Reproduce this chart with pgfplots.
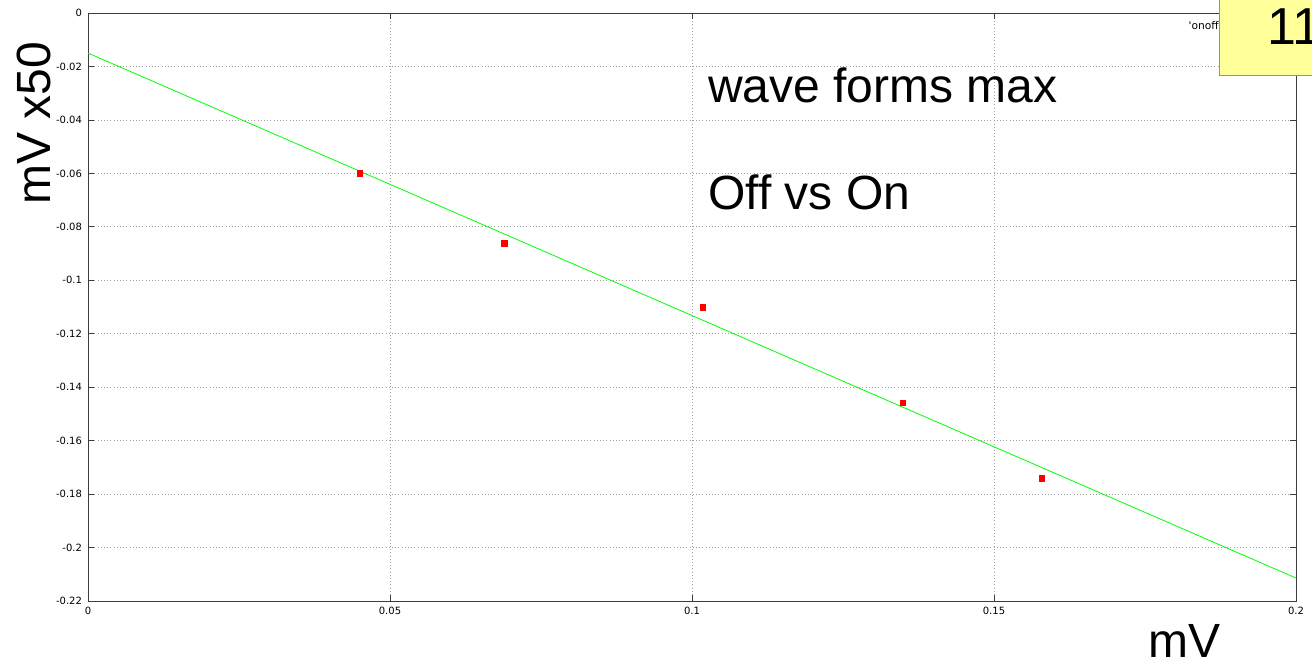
\documentclass[border=0pt]{standalone}
\usepackage{pgfplots}
\pgfplotsset{compat=1.18}
\usepackage{fontspec}
\setmainfont{Liberation Sans}
\newfontfamily\dejavu{DejaVu Sans}
\definecolor{axgray}{RGB}{60,60,60}
\definecolor{gridgray}{RGB}{160,160,160}
\definecolor{boxyellow}{RGB}{255,255,153}
\definecolor{boxborder}{RGB}{120,150,190}
\begin{document}
\begin{tikzpicture}
\useasboundingbox (0,0) rectangle (984pt,-498pt);
\clip (0,0) rectangle (984pt,-498pt);
\begin{axis}[
  at={(66pt,-450.75pt)}, anchor=south west,
  scale only axis, width=906pt, height=441pt,
  xmin=0, xmax=0.2, ymin=-0.22, ymax=0,
  xtick={0,0.05,0.1,0.15,0.2},
  xticklabels={0,0.05,0.1,0.15,0.2},
  ytick={-0.22,-0.2,-0.18,-0.16,-0.14,-0.12,-0.1,-0.08,-0.06,-0.04,-0.02,0},
  yticklabels={-0.22,-0.2,-0.18,-0.16,-0.14,-0.12,-0.1,-0.08,-0.06,-0.04,-0.02,0},
  tick label style={font=\dejavu\fontsize{7.5}{9}\selectfont, text=black},
  xticklabel style={yshift=-1pt},
  yticklabel style={xshift=-1pt},
  tick align=inside,
  major tick length=4.5pt,
  tick style={axgray, line width=0.6pt},
  axis line style={axgray, line width=0.75pt},
  grid=major,
  major grid style={gridgray, dotted, line width=0.5pt},
  clip=true,
]
\addplot[color=green, line width=0.6pt] coordinates {(0,-0.015) (0.2,-0.2114)};
\addplot[only marks, mark=square*, mark size=2.1pt, color=red, mark options={fill=red, draw=red}] coordinates {
  (0.045,-0.0600)
  (0.0689,-0.0861)
  (0.1018,-0.1100)
  (0.1349,-0.1459)
  (0.1579,-0.1740)
};
\end{axis}
\begin{scope}[x=0.75pt,y=-0.75pt]
\node[anchor=base west, inner sep=0, font=\fontsize{36}{40}\selectfont] at (708,102) {wave forms max};
\node[anchor=base west, inner sep=0, font=\fontsize{36}{40}\selectfont] at (708,209) {Off vs On};
\node[anchor=base west, inner sep=0, rotate=90, font=\fontsize{36}{40}\selectfont] at (50,205) {mV x50};
\node[anchor=base west, inner sep=0, font=\fontsize{36}{40}\selectfont] at (1148,657) {mV};
\node[anchor=base east, inner sep=0, font=\dejavu\fontsize{8}{10}\selectfont] at (1222,29) {'onoff'};
\filldraw[fill=boxyellow, draw=boxborder, line width=0.75pt] (1219,-10) rectangle (1330,75);
\node[anchor=base west, inner sep=0, font=\fontsize{39}{43}\selectfont] at (1267,44) {11};
\end{scope}
\end{tikzpicture}
\end{document}
